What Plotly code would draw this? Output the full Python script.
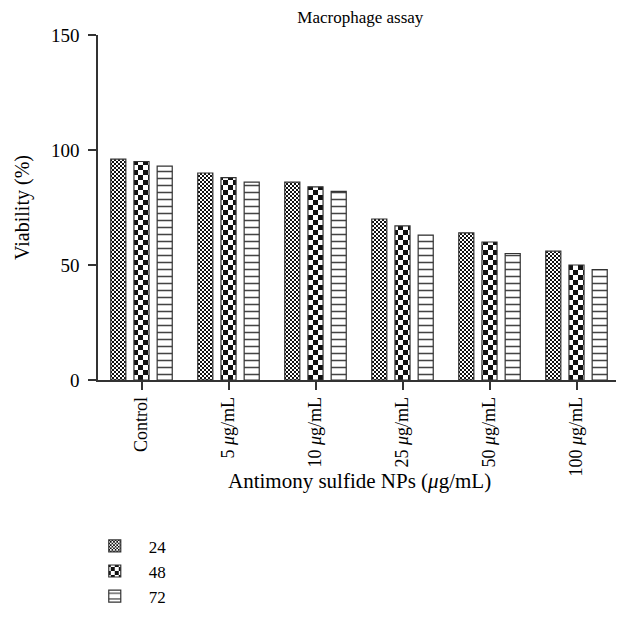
import plotly.graph_objects as go

categories = ["Control", "5 <i>μ</i>g/mL", "10 <i>μ</i>g/mL", "25 <i>μ</i>g/mL", "50 <i>μ</i>g/mL", "100 <i>μ</i>g/mL"]
series_names = ["24", "48", "72"]
v24 = [96, 90, 86, 70, 64, 56]
v48 = [95, 88, 84, 67, 60, 50]
v72 = [93, 86, 82, 63, 55, 48]
y_ticks = [0, 50, 100, 150]

FONT = "Liberation Serif"
LINE = "#333333"

patterns = [
    dict(path="M0,0H2V2H0ZM2,2H4V4H2Z", size=4, fgcolor="#111111", bgcolor="white", fillmode="replace"),
    dict(path="M0,0H5V5H0ZM5,5H10V10H5Z", size=10, fgcolor="#111111", bgcolor="white", fillmode="replace"),
    dict(shape="-", size=7, solidity=0.22, fgcolor="#444444", bgcolor="white", fillmode="replace"),
]

fig = go.Figure()
for name, vals, pat in zip(series_names, [v24, v48, v72], patterns):
    fig.add_trace(go.Bar(
        x=categories, y=vals, name=name,
        marker=dict(color="white", pattern=pat, line=dict(color=LINE, width=1.2)),
    ))

fig.update_layout(
    width=616, height=609,
    margin=dict(l=90, r=4, t=27, b=237, autoexpand=False),
    paper_bgcolor="white", plot_bgcolor="white",
    barmode="group", bargap=0.2, bargroupgap=0.35,
    font=dict(family=FONT, size=18, color="black"),
    title=dict(text="Macrophage assay", x=0.572, xanchor="center", y=0.995, yanchor="top",
               font=dict(family=FONT, size=17, color="black")),
    showlegend=True,
    legend=dict(x=-0.033, xanchor="left", y=-0.43, yanchor="top",
                font=dict(family=FONT, size=17), traceorder="normal",
                itemwidth=58, tracegroupgap=0, bgcolor="rgba(0,0,0,0)"),
    annotations=[dict(text="Antimony sulfide NPs (<i>μ</i>g/mL)", xref="paper", yref="paper",
                      x=0.5, y=-0.292, xanchor="center", yanchor="middle", showarrow=False,
                      font=dict(family=FONT, size=21, color="black"))],
)
fig.update_xaxes(
    automargin=False,
    showline=True, linecolor=LINE, linewidth=1.5, ticks="outside", ticklen=8,
    tickcolor=LINE, tickwidth=1.5, tickangle=-90, showgrid=False,
    tickfont=dict(family=FONT, size=18),
)
fig.update_yaxes(
    automargin=False,
    range=[0, 150], tickvals=y_ticks, showline=True, linecolor=LINE, linewidth=1.5,
    ticks="outside", ticklen=8, tickcolor=LINE, tickwidth=1.5, showgrid=False, zeroline=False,
    ticklabelstandoff=5,
    tickfont=dict(family=FONT, size=19),
    title=dict(text="Viability (%)", standoff=16, font=dict(family=FONT, size=20)),
)

fig.write_html("out.html")
